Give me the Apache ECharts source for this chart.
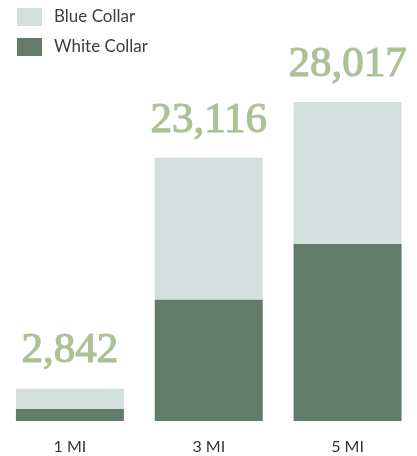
<!DOCTYPE html>
<html>
<head>
<meta charset="utf-8">
<style>
  html, body { margin: 0; padding: 0; background: #ffffff; }
  #chart { width: 417px; height: 456px; }
</style>
<script src="https://cdn.jsdelivr.net/npm/echarts@6/dist/echarts.min.js"></script>
</head>
<body>
<div id="chart"></div>
<script>
// Employment by radius, split into collar type
const categories = ['1 MI', '3 MI', '5 MI'];
const whiteCollar = [1066, 10670, 15550];
const blueCollar = [1776, 12446, 12467];

const totals = categories.map((_, i) => whiteCollar[i] + blueCollar[i]);

const chart = echarts.init(document.getElementById('chart'), null, { renderer: 'canvas' });

chart.setOption({
  animation: false,
  backgroundColor: '#ffffff',
  legend: {
    orient: 'vertical',
    left: 17,
    top: 8,
    padding: 0,
    itemWidth: 25,
    itemHeight: 18,
    itemGap: 12,
    icon: 'rect',
    data: ['Blue Collar', 'White Collar'],
    textStyle: {
      fontFamily: 'Lato',
      fontSize: 17,
      color: '#3d3d3d',
      padding: [0, 0, 0, 7]
    }
  },
  grid: {
    left: 0.5,
    width: 429,
    top: 22.5,
    bottom: 35
  },
  xAxis: {
    type: 'category',
    data: categories,
    axisLine: { show: false },
    axisTick: { show: false },
    axisLabel: {
      margin: 18,
      fontFamily: 'Lato',
      fontSize: 16,
      color: '#333333'
    }
  },
  yAxis: {
    type: 'value',
    min: 0,
    max: 35000,
    show: false,
    splitLine: { show: false }
  },
  series: [
    {
      name: 'White Collar',
      type: 'bar',
      stack: 'jobs',
      barWidth: 108,
      data: whiteCollar,
      itemStyle: { color: '#637b6a' }
    },
    {
      name: 'Blue Collar',
      type: 'bar',
      stack: 'jobs',
      barWidth: 108,
      data: blueCollar,
      itemStyle: { color: '#d3dfdd' },
      label: {
        show: true,
        position: 'top',
        distance: 16,
        formatter: (p) => totals[p.dataIndex].toLocaleString('en-US'),
        fontFamily: 'Liberation Serif',
        fontSize: 43,
        color: '#adc197',
        textBorderColor: '#adc197',
        textBorderWidth: 1.2
      }
    }
  ]
});
</script>
</body>
</html>
